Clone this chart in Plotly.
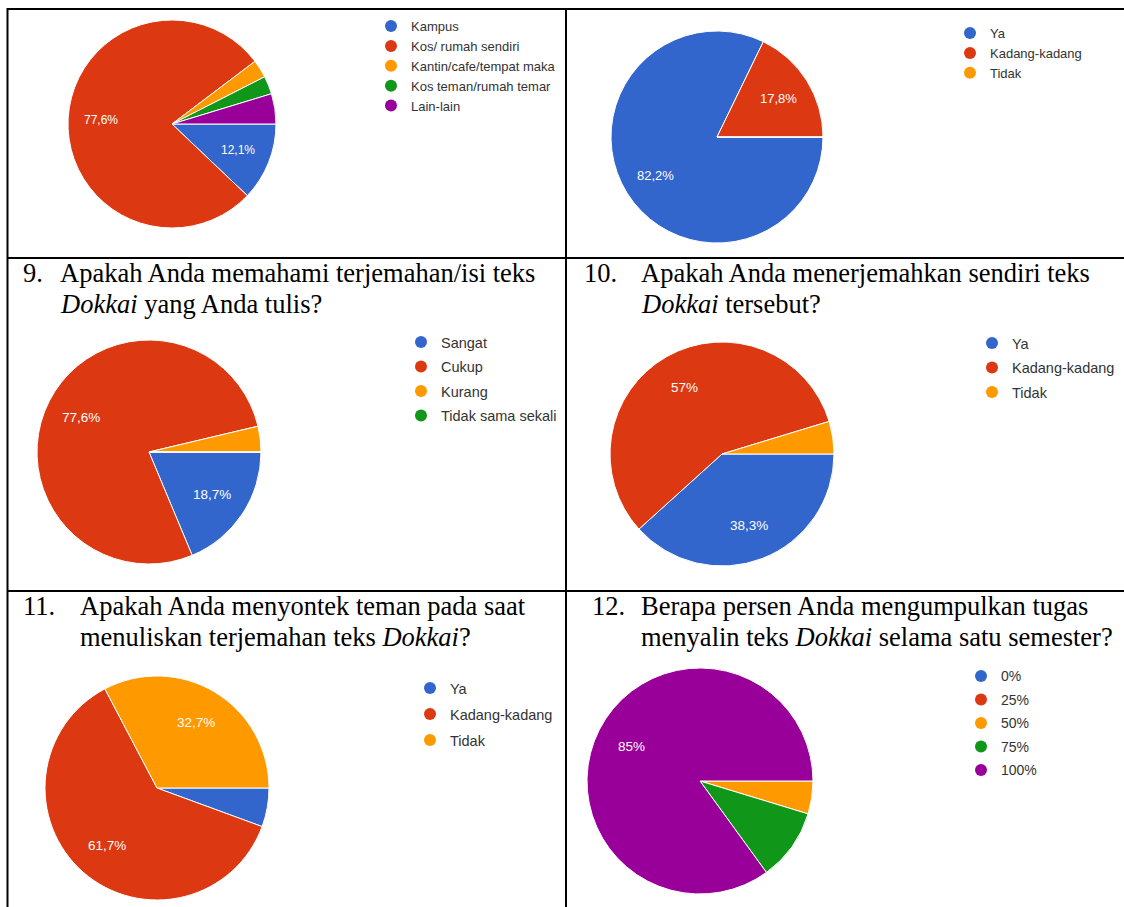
import math
import plotly.graph_objects as go

W, H = 1124, 907

# ---------------- data ----------------
colors_google = ["#3366CC", "#DC3912", "#FF9900", "#109618", "#990099"]

labels_1 = ["Kampus", "Kos/ rumah sendiri", "Kantin/cafe/tempat maka", "Kos teman/rumah temar", "Lain-lain"]
values_1 = [12.1, 77.6, 2.8, 2.8, 4.7]

labels_2 = ["Ya", "Kadang-kadang", "Tidak"]
values_2 = [82.2, 17.8, 0.0]

labels_3 = ["Sangat", "Cukup", "Kurang", "Tidak sama sekali"]
values_3 = [18.7, 77.6, 3.7, 0.0]

labels_4 = ["Ya", "Kadang-kadang", "Tidak"]
values_4 = [38.3, 57.0, 4.7]

labels_5 = ["Ya", "Kadang-kadang", "Tidak"]
values_5 = [5.6, 61.7, 32.7]

labels_6 = ["0%", "25%", "50%", "75%", "100%"]
values_6 = [0.0, 0.0, 4.7, 10.3, 85.0]

q_numbers = ["9.", "10.", "11.", "12."]
q_line1 = [
    "Apakah Anda memahami terjemahan/isi teks",
    "Apakah Anda menerjemahkan sendiri teks",
    "Apakah Anda menyontek teman pada saat",
    "Berapa persen Anda mengumpulkan tugas",
]
q_line2 = [
    "<i>Dokkai</i> yang Anda tulis?",
    "<i>Dokkai</i> tersebut?",
    "menuliskan terjemahan teks <i>Dokkai</i>?",
    "menyalin teks <i>Dokkai</i> selama satu semester?",
]

# ---------------- layout helpers ----------------
def px(x):
    return x / W


def py(y):
    return 1 - y / H


def fmt(v):
    s = f"{v:.1f}"
    if s.endswith(".0"):
        s = s[:-2]
    return s.replace(".", ",") + "%"


# (labels, values, (cx, cy, R), slice-label font, (legend circle x, legend first y, legend font, spacing))
charts = [
    (labels_1, values_1, (172, 124, 104), 12, (395, 26, 13, 19.5)),
    (labels_2, values_2, (717, 137, 106), 13, (974, 33, 13, 19)),
    (labels_3, values_3, (149, 452, 112), 13.5, (425, 342, 14.5, 24.5)),
    (labels_4, values_4, (722, 454, 112), 13.5, (996, 343, 14.5, 24.5)),
    (labels_5, values_5, (157, 788, 112), 13.5, (434, 688, 14.5, 26)),
    (labels_6, values_6, (700, 781, 113), 13.5, (985, 676, 14, 23.5)),
]

fig = go.Figure()
layout_legends = {}
annotations = []
label_font_family = "Liberation Sans, Arial, sans-serif"

for k, (labels, values, (cx, cy, R), lfs, (lx, ly, lfont, lsp)) in enumerate(charts, start=1):
    cols = colors_google[: len(labels)]
    fig.add_trace(go.Pie(
        labels=labels,
        values=values,
        sort=False,
        direction="clockwise",
        rotation=90,
        marker=dict(colors=cols, line=dict(color="white", width=1)),
        textinfo="none",
        domain=dict(x=[px(cx - R), px(cx + R)], y=[py(cy + R), py(cy - R)]),
        showlegend=False,
        hoverinfo="label+percent",
    ))
    # slice percentage labels (Google-style: only for slices large enough)
    total = sum(values)
    cum = 0.0
    for v in values:
        if v / total * 100 >= 11:
            theta = math.radians(90 + 360 * (cum + v / 2) / total)
            r = 0.68 * R
            tx = cx + r * math.sin(theta)
            ty = cy - r * math.cos(theta)
            annotations.append(dict(
                text=fmt(v), x=px(tx), y=py(ty), xref="paper", yref="paper",
                xanchor="center", yanchor="middle", showarrow=False,
                font=dict(family=label_font_family, size=lfs, color="white"),
            ))
        cum += v
    lname = "legend" if k == 1 else f"legend{k}"
    for i, (lab, col) in enumerate(zip(labels, cols)):
        fig.add_trace(go.Scatter(
            x=[None], y=[None], mode="markers",
            marker=dict(symbol="circle", size=12, color=col),
            name=lab, legend=lname, legendgroup=f"g{k}_{i}",
            showlegend=True, hoverinfo="skip",
        ))
    item_h = max(lfont * 1.3, 16) + 3
    gap = max(lsp - item_h, 0)
    layout_legends[lname] = dict(
        x=px(lx - 24), y=py(ly - item_h / 2 - 5), xanchor="left", yanchor="top",
        font=dict(family=label_font_family, size=lfont, color="#333333"),
        bgcolor="rgba(0,0,0,0)", borderwidth=0,
        traceorder="grouped", tracegroupgap=gap,
        itemclick=False, itemdoubleclick=False,
    )

# ---------------- question titles ----------------
title_pos = [
    # (number x, text x, line1 y, line2 y)
    (22, 59, 273, 304),
    (583, 640, 273, 304),
    (22, 79, 606, 637),
    (591, 640, 606, 637),
]
serif = dict(family="Liberation Serif, Times New Roman, serif", size=26.5, color="black")
for (nx, tx, y1, y2), num, l1, l2 in zip(title_pos, q_numbers, q_line1, q_line2):
    for text, x, y in ((num, nx, y1), (l1, tx, y1), (l2, tx, y2)):
        annotations.append(dict(text=text, x=px(x), y=py(y), xref="paper", yref="paper",
                                xanchor="left", yanchor="middle", showarrow=False,
                                borderpad=0, font=serif))

# ---------------- table borders ----------------
line = dict(color="black", width=2)
shapes = [
    dict(type="line", xref="paper", yref="paper", x0=px(7), x1=1, y0=py(9), y1=py(9), line=line),
    dict(type="line", xref="paper", yref="paper", x0=px(7), x1=1, y0=py(258), y1=py(258), line=line),
    dict(type="line", xref="paper", yref="paper", x0=px(7), x1=1, y0=py(591), y1=py(591), line=line),
    dict(type="line", xref="paper", yref="paper", x0=px(7.5), x1=px(7.5), y0=py(8), y1=0, line=line),
    dict(type="line", xref="paper", yref="paper", x0=px(566), x1=px(566), y0=py(8), y1=0, line=line),
]

fig.update_layout(
    width=W, height=H,
    margin=dict(l=0, r=0, t=0, b=0),
    paper_bgcolor="white", plot_bgcolor="white",
    xaxis=dict(visible=False), yaxis=dict(visible=False),
    annotations=annotations,
    shapes=shapes,
    **layout_legends,
)

fig.write_html("out.html")
